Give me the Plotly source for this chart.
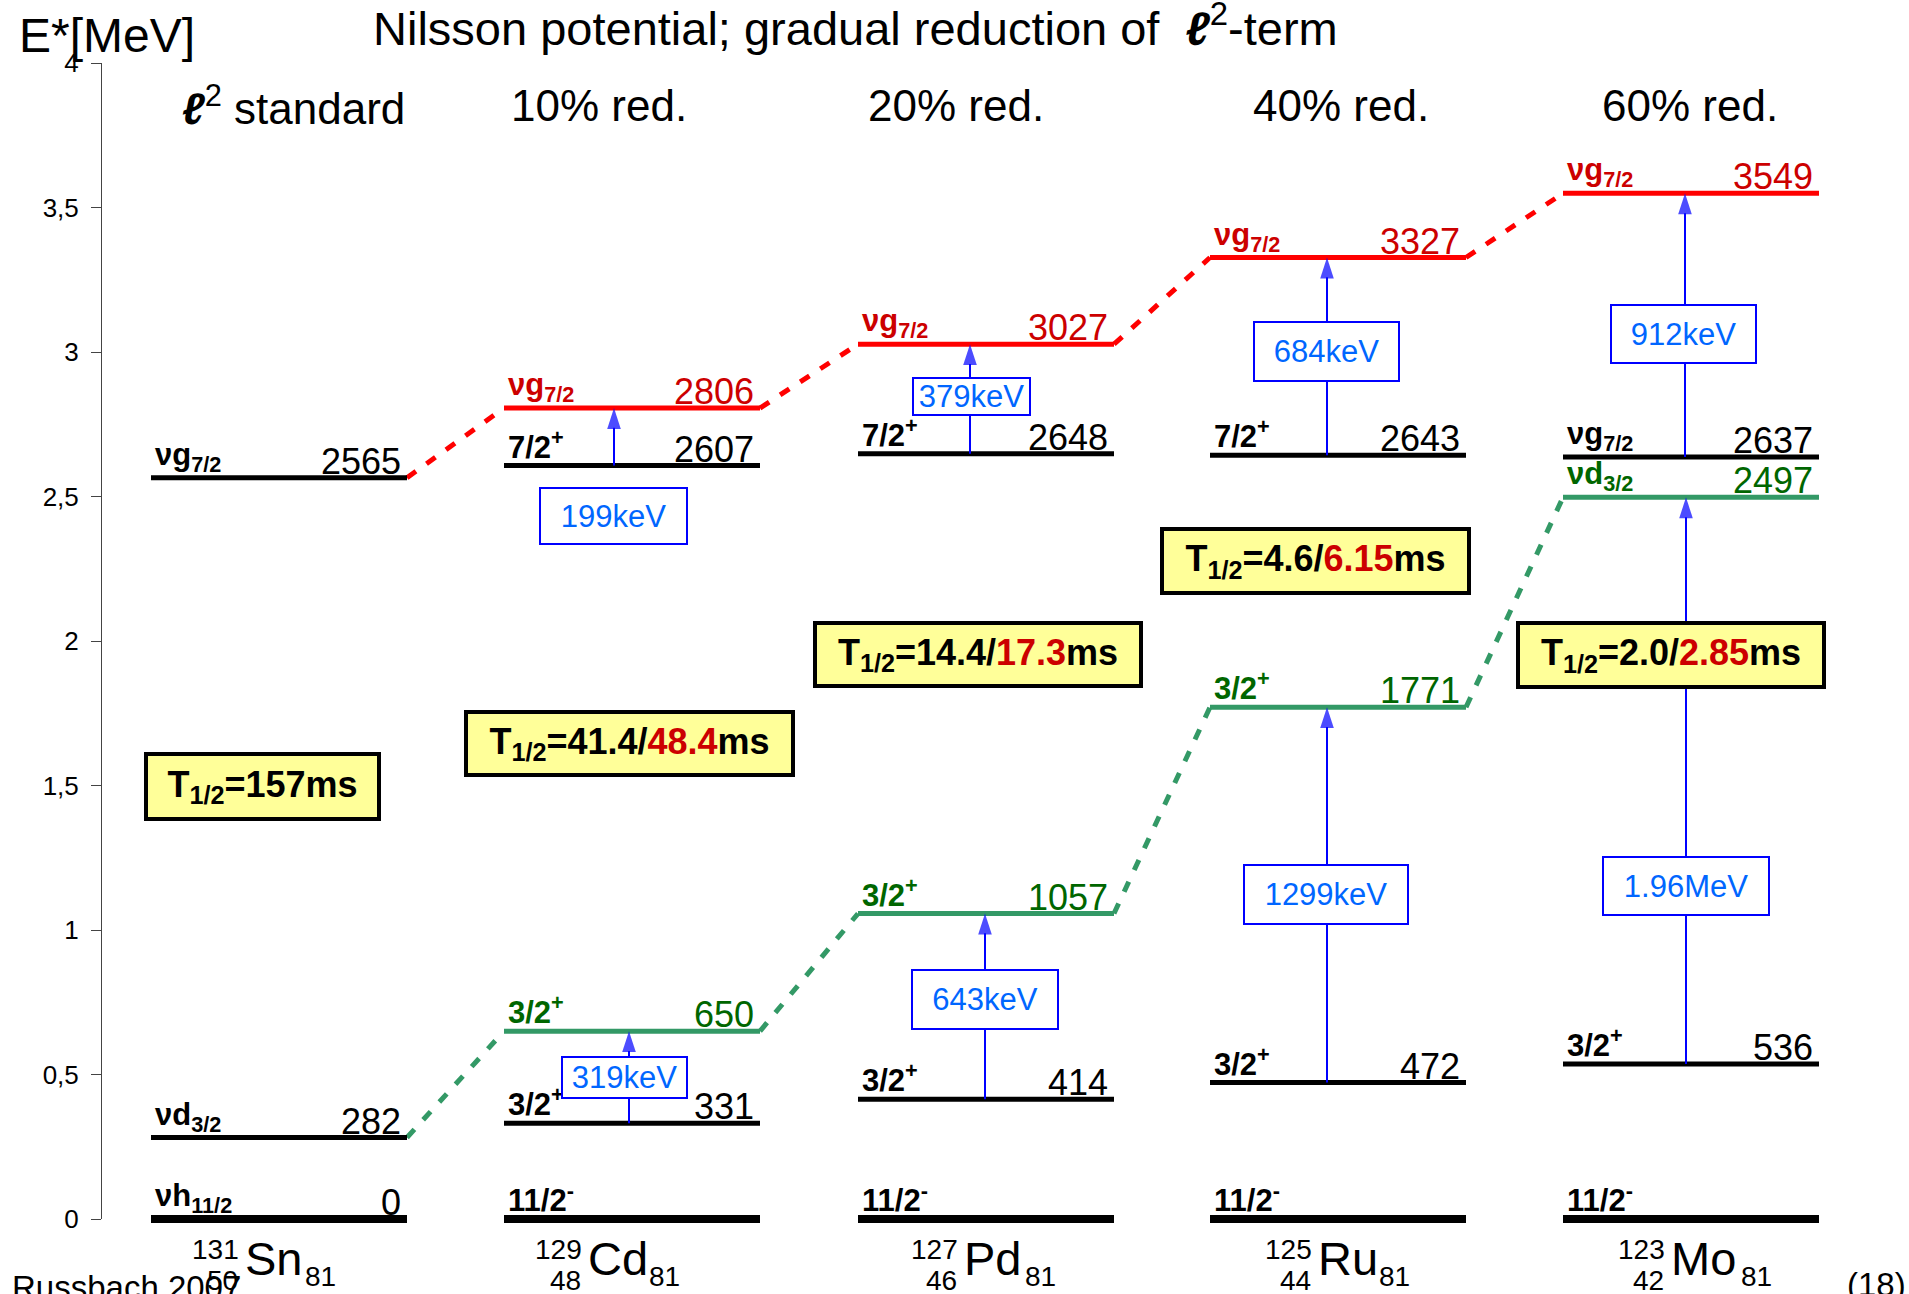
import plotly.graph_objects as go

# ---------------- data ----------------
isotopes = ["Sn", "Cd", "Pd", "Ru", "Mo"]
mass_numbers = ["131", "129", "127", "125", "123"]
proton_numbers = ["50", "48", "46", "44", "42"]
neutron_numbers = ["81", "81", "81", "81", "81"]
column_headers = ["<b><i>ℓ</i></b><sup>2</sup> standard", "10% red.", "20% red.",
                  "40% red.", "60% red."]

ground_keV = [0, 0, 0, 0, 0]
ground_label = ["νh<sub>11/2</sub>", "11/2<sup>-</sup>", "11/2<sup>-</sup>",
                "11/2<sup>-</sup>", "11/2<sup>-</sup>"]
ground_energy_text = ["0", None, None, None, None]

d32_exp_keV = [282, 331, 414, 472, 536]
d32_exp_label = ["νd<sub>3/2</sub>", "3/2<sup>+</sup>", "3/2<sup>+</sup>",
                 "3/2<sup>+</sup>", "3/2<sup>+</sup>"]

d32_calc_keV = [None, 650, 1057, 1771, 2497]
d32_calc_label = [None, "3/2<sup>+</sup>", "3/2<sup>+</sup>", "3/2<sup>+</sup>",
                  "νd<sub>3/2</sub>"]

g72_exp_keV = [2565, 2607, 2648, 2643, 2637]
g72_exp_label = ["νg<sub>7/2</sub>", "7/2<sup>+</sup>", "7/2<sup>+</sup>",
                 "7/2<sup>+</sup>", "νg<sub>7/2</sub>"]

g72_calc_keV = [None, 2806, 3027, 3327, 3549]
g72_calc_label = [None, "νg<sub>7/2</sub>", "νg<sub>7/2</sub>", "νg<sub>7/2</sub>",
                  "νg<sub>7/2</sub>"]

trans_col = [1, 1, 2, 2, 3, 3, 4, 4]
trans_from_keV = [2607, 331, 2648, 414, 2643, 472, 2637, 536]
trans_to_keV = [2806, 650, 3027, 1057, 3327, 1771, 3549, 2497]
trans_label = ["199keV", "319keV", "379keV", "643keV", "684keV", "1299keV",
               "912keV", "1.96MeV"]

thalf_exp = ["157", "41.4", "14.4", "4.6", "2.0"]
thalf_calc = [None, "48.4", "17.3", "6.15", "2.85"]

y_tick_vals = [0, 0.5, 1, 1.5, 2, 2.5, 3, 3.5, 4]
y_tick_text = ["0", "0,5", "1", "1,5", "2", "2,5", "3", "3,5", "4"]

# ---------------- layout constants ----------------
W, H = 1909, 1294
Y0_PX = 1219
PX_PER_MEV = 289.0
AXIS_X = 101
COL_LEFT = [151, 504, 858, 1210, 1563]
COL_W = 256
FONT = "Liberation Sans, Arial, Helvetica, sans-serif"

BLACK = "#000000"
GREEN_LINE = "#339966"
GREEN_TEXT = "#006600"
RED_LINE = "#FF0000"
RED_TEXT = "#CC0000"
BLUE = "#0000FF"
BLUE_TEXT = "#0066FF"

TRANS_X = [614, 629, 970, 985, 1327, 1327, 1685, 1686]
TRANS_BOX = [(613, 516, 149, 58), (624, 1077, 127, 43), (971, 396, 119, 39),
             (985, 999, 148, 61), (1326, 351, 147, 61), (1326, 894, 166, 61),
             (1683, 334, 147, 60), (1686, 886, 168, 60)]
THALF_BOX = [(262, 786, 237, 69), (629, 743, 331, 67), (978, 654, 330, 67),
             (1315, 561, 311, 68), (1671, 655, 310, 68)]
HEADER_X = [293, 599, 956, 1341, 1690]
ELEM_X = [243, 586, 962, 1316, 1669]
N_X = [303, 647, 1023, 1377, 1739]


def e_px(py):
    return (Y0_PX - py) / PX_PER_MEV


def paper_y(py):
    return 1 - py / H


fig = go.Figure()


def add_levels(energies, color, width):
    xs, ys = [], []
    for i, e in enumerate(energies):
        if e is None:
            continue
        xs += [COL_LEFT[i], COL_LEFT[i] + COL_W, None]
        ys += [e / 1000, e / 1000, None]
    fig.add_trace(go.Scatter(x=xs, y=ys, mode="lines",
                             line=dict(color=color, width=width),
                             hoverinfo="skip", showlegend=False))


def add_connector(chain, color, width):
    xs, ys = [], []
    for i in range(len(chain) - 1):
        xs += [COL_LEFT[i] + COL_W, COL_LEFT[i + 1], None]
        ys += [chain[i] / 1000, chain[i + 1] / 1000, None]
    fig.add_trace(go.Scatter(x=xs, y=ys, mode="lines",
                             line=dict(color=color, width=width, dash="11px,13px"),
                             hoverinfo="skip", showlegend=False))


green_chain = [d32_exp_keV[0]] + d32_calc_keV[1:]
red_chain = [g72_exp_keV[0]] + g72_calc_keV[1:]
add_connector(green_chain, GREEN_LINE, 5)
add_connector(red_chain, RED_LINE, 5)

add_levels(ground_keV, BLACK, 8)
add_levels(d32_exp_keV, BLACK, 5)
add_levels(g72_exp_keV, BLACK, 5)
add_levels(d32_calc_keV, GREEN_LINE, 5)
add_levels(g72_calc_keV, RED_LINE, 5)

for k in range(len(trans_col)):
    x = TRANS_X[k]
    fig.add_trace(go.Scatter(
        x=[x, x], y=[trans_from_keV[k] / 1000, trans_to_keV[k] / 1000],
        mode="lines+markers", line=dict(color=BLUE, width=2),
        marker=dict(symbol="arrow", angleref="previous", size=[0, 22], color=BLUE,
                    line=dict(width=0)),
        hoverinfo="skip", showlegend=False))

# empty trace that carries the visible energy axis
fig.add_trace(go.Scatter(x=[None], y=[None], yaxis="y2", showlegend=False))

annotations = []


def level_labels(energies, labels, color, energy_texts=None):
    for i, e in enumerate(energies):
        if e is None:
            continue
        annotations.append(dict(
            x=COL_LEFT[i] + 2, y=e / 1000, xref="x", yref="y", text="<b>" + labels[i] + "</b>",
            showarrow=False, xanchor="left", yanchor="bottom", yshift=-1,
            font=dict(family=FONT, size=31, color=color)))
        etext = str(e) if energy_texts is None else energy_texts[i]
        if etext:
            annotations.append(dict(
                x=COL_LEFT[i] + COL_W - 4, y=e / 1000, xref="x", yref="y", text=etext,
                showarrow=False, xanchor="right", yanchor="bottom", yshift=-6,
                font=dict(family=FONT, size=36, color=color)))


level_labels(ground_keV, ground_label, BLACK, ground_energy_text)
level_labels(d32_exp_keV, d32_exp_label, BLACK)
level_labels(g72_exp_keV, g72_exp_label, BLACK)
level_labels(d32_calc_keV, d32_calc_label, GREEN_TEXT)
level_labels(g72_calc_keV, g72_calc_label, RED_TEXT)

for k in range(len(trans_col)):
    cx, cy, w, h = TRANS_BOX[k]
    bw = 2
    annotations.append(dict(
        x=cx, y=e_px(cy), xref="x", yref="y", text=trans_label[k], showarrow=False,
        width=w - 2 * bw, height=h - 2 * bw, bgcolor="white", bordercolor=BLUE,
        borderwidth=bw, borderpad=0, align="center", valign="middle",
        xanchor="center", yanchor="middle",
        font=dict(family=FONT, size=31, color=BLUE_TEXT)))

for i in range(len(thalf_exp)):
    cx, cy, w, h = THALF_BOX[i]
    bw = 4
    txt = "<b>T<sub>1/2</sub>=" + thalf_exp[i]
    if thalf_calc[i]:
        txt += "/<span style=\"color:" + RED_TEXT + "\">" + thalf_calc[i] + "</span>"
    txt += "ms</b>"
    annotations.append(dict(
        x=cx, y=e_px(cy), xref="x", yref="y", text=txt, showarrow=False,
        width=w - 2 * bw, height=h - 2 * bw, bgcolor="#FFFF99", bordercolor=BLACK,
        borderwidth=bw, borderpad=0, align="center", valign="middle",
        xanchor="center", yanchor="middle",
        font=dict(family=FONT, size=36, color=BLACK)))

for i, t in enumerate(column_headers):
    annotations.append(dict(
        x=HEADER_X[i], y=e_px(105), xref="x", yref="y", text=t, showarrow=False,
        xanchor="center", yanchor="middle", font=dict(family=FONT, size=44, color=BLACK)))

for i, el in enumerate(isotopes):
    annotations.append(dict(
        x=ELEM_X[i], y=paper_y(1258), xref="x", yref="paper", text=el, showarrow=False,
        xanchor="left", yanchor="middle", font=dict(family=FONT, size=47, color=BLACK)))
    annotations.append(dict(
        x=ELEM_X[i] - 2, y=paper_y(1249), xref="x", yref="paper", text=mass_numbers[i],
        showarrow=False, xanchor="right", yanchor="middle",
        font=dict(family=FONT, size=28, color=BLACK)))
    annotations.append(dict(
        x=ELEM_X[i] - 3, y=paper_y(1280), xref="x", yref="paper", text=proton_numbers[i],
        showarrow=False, xanchor="right", yanchor="middle",
        font=dict(family=FONT, size=28, color=BLACK)))
    annotations.append(dict(
        x=N_X[i], y=paper_y(1276), xref="x", yref="paper", text=neutron_numbers[i],
        showarrow=False, xanchor="left", yanchor="middle",
        font=dict(family=FONT, size=28, color=BLACK)))

annotations.append(dict(
    x=17 / W, y=paper_y(35), xref="paper", yref="paper", text="E*[MeV]", showarrow=False,
    xanchor="left", yanchor="middle", font=dict(family=FONT, size=48, color=BLACK)))
annotations.append(dict(
    x=371 / W, y=paper_y(25), xref="paper", yref="paper",
    text="Nilsson potential; gradual reduction of \u00a0<b><i>ℓ</i></b><sup>2</sup>-term",
    showarrow=False, xanchor="left", yanchor="middle",
    font=dict(family=FONT, size=47, color=BLACK)))
annotations.append(dict(
    x=10 / W, y=paper_y(1267), xref="paper", yref="paper", text="Russbach 2007",
    showarrow=False, xanchor="left", yanchor="top",
    font=dict(family=FONT, size=33, color=BLACK)))
annotations.append(dict(
    x=1845 / W, y=paper_y(1264), xref="paper", yref="paper", text="(18)",
    showarrow=False, xanchor="left", yanchor="top",
    font=dict(family=FONT, size=33, color=BLACK)))

fig.update_layout(
    width=W, height=H, autosize=False,
    margin=dict(l=0, r=0, t=0, b=0, pad=0, autoexpand=False),
    paper_bgcolor="white", plot_bgcolor="rgba(0,0,0,0)",
    showlegend=False, separators=", ",
    xaxis=dict(range=[0, W], visible=False, domain=[0, 1], fixedrange=True,
               automargin=False),
    yaxis=dict(range=[e_px(H), e_px(0)], visible=False, domain=[0, 1], fixedrange=True,
               automargin=False),
    yaxis2=dict(
        domain=[(H - Y0_PX) / H, (H - (Y0_PX - 4 * PX_PER_MEV)) / H],
        range=[0, 4], anchor="free", position=AXIS_X / W, automargin=False,
        showline=True, linecolor="#444444", linewidth=1,
        ticks="outside", ticklen=10, tickwidth=1, tickcolor="#444444",
        tickvals=y_tick_vals, ticktext=y_tick_text,
        tickfont=dict(family=FONT, size=26, color=BLACK),
        ticklabelstandoff=7,
        showgrid=False, zeroline=False, fixedrange=True),
    annotations=annotations,
)

fig.write_html("out.html", config={"displayModeBar": False})
